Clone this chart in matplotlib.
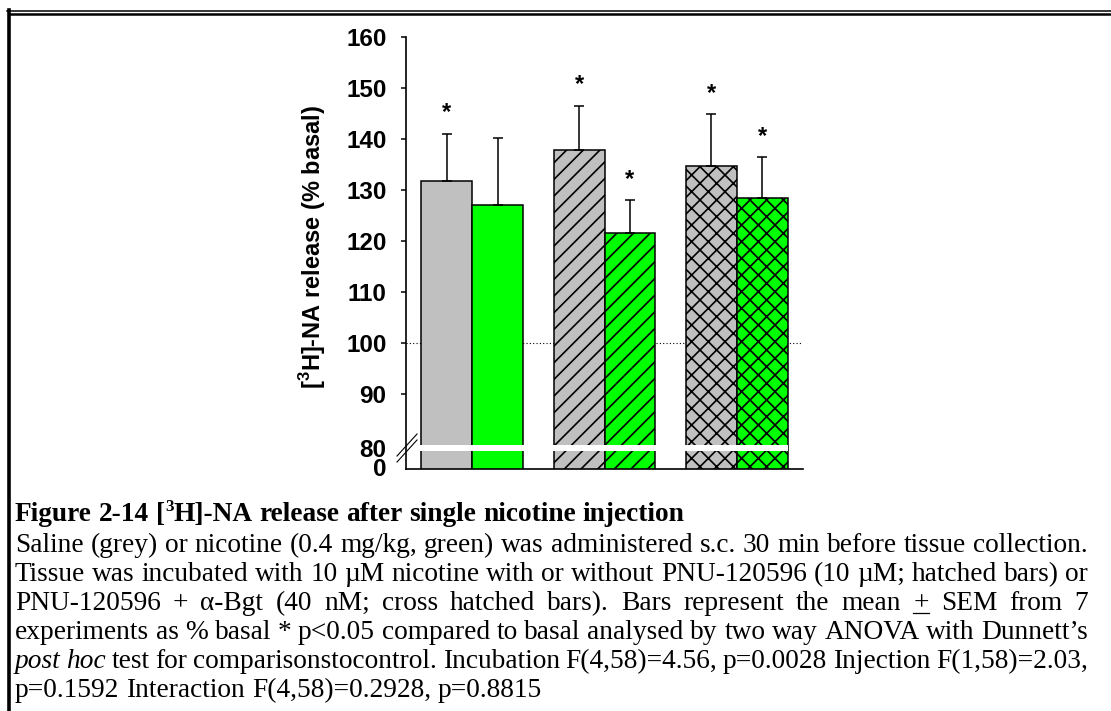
import matplotlib.pyplot as plt
import numpy as np
from matplotlib.lines import Line2D
from matplotlib.transforms import IdentityTransform

plt.rcParams["font.family"] = ["Liberation Sans", "DejaVu Sans"]
plt.rcParams["mathtext.fontset"] = "custom"
plt.rcParams["mathtext.bf"] = "Liberation Sans:bold"
plt.rcParams["mathtext.rm"] = "Liberation Sans:bold"
plt.rcParams["hatch.linewidth"] = 1.2

# data (% basal release)
groups = ["nicotine", "nicotine + PNU-120596", "nicotine + PNU-120596 + a-Bgt"]
saline_mean = [131.8, 137.9, 134.7]
saline_sem = [9.3, 8.7, 10.2]
nicotine_mean = [127.1, 121.6, 128.4]
nicotine_sem = [13.1, 6.4, 8.1]
saline_sig = [True, True, True]
nicotine_sig = [False, True, True]
hatches = ["", "//", "xx"]
ytick_vals = [90, 100, 110, 120, 130, 140, 150, 160]

title_txt = "Figure 2-14 [^3H]-NA release after single nicotine injection"
caption = [
    ("Saline (grey) or nicotine (0.4 mg/kg, green) was administered s.c. 30 min before tissue collection.", True),
    ("Tissue was incubated with 10 \u00b5M nicotine with or without PNU-120596 (10 \u00b5M; hatched bars) or", True),
    ("PNU-120596 + \u03b1-Bgt (40 nM; cross hatched bars). Bars represent the mean ~+~ SEM from 7", True),
    ("experiments as % basal * p<0.05 compared to basal analysed by two way ANOVA with Dunnett\u2019s", True),
    ("_post_ _hoc_ test for comparisonstocontrol. Incubation F(4,58)=4.56, p=0.0028 Injection F(1,58)=2.03,", True),
    ("p=0.1592 Interaction F(4,58)=0.2928, p=0.8815", False),
]

W, H = 1111, 711
fig = plt.figure(figsize=(W / 100, H / 100), dpi=100)

# chart
ax = fig.add_axes([406 / W, 1 - 469 / H, (803 - 406) / W, (469 - 37.3) / H])
x = np.arange(len(groups))
w = 0.383
for i in range(len(groups)):
    ax.bar(x[i] - w / 2, saline_mean[i], w, color="#c0c0c0", edgecolor="black",
           linewidth=1.1, hatch=hatches[i], zorder=2)
    ax.bar(x[i] + w / 2, nicotine_mean[i], w, color="#00ff00", edgecolor="black",
           linewidth=1.1, hatch=hatches[i], zorder=2)

ax.errorbar(x - w / 2, saline_mean, yerr=[np.zeros(3), saline_sem], fmt="none",
            ecolor="black", elinewidth=1.1, capsize=3.6, capthick=1.1, zorder=3)
ax.errorbar(x + w / 2, nicotine_mean, yerr=[np.zeros(3), nicotine_sem], fmt="none",
            ecolor="black", elinewidth=1.1, capsize=3.6, capthick=1.1, zorder=3)

for i in range(len(groups)):
    if saline_sig[i]:
        ax.text(x[i] - w / 2, saline_mean[i] + saline_sem[i] + 4.1, "*", ha="center",
                va="center", fontsize=17, fontweight="bold")
    if nicotine_sig[i]:
        ax.text(x[i] + w / 2, nicotine_mean[i] + nicotine_sem[i] + 4.1, "*", ha="center",
                va="center", fontsize=17, fontweight="bold")

ax.axhline(100, color="black", linestyle=(0, (1, 2)), linewidth=0.8, zorder=1)

# axis break
ax.fill_between([-0.4, 2.39], 78.75, 79.9, color="white", linewidth=0, zorder=4)

ax.set_xlim(-0.5, 2.5)
ax.set_ylim(75.2, 160)
ax.set_yticks([75.6, 79.3] + ytick_vals)
ax.set_yticklabels(["0", "80"] + [str(v) for v in ytick_vals])
ax.set_xticks([])
for t in ax.yaxis.get_major_ticks()[:2]:
    t.tick1line.set_visible(False)
ax.tick_params(axis="y", direction="out", length=3.6, width=1.1, labelsize=17.5, pad=10.5)
for lab in ax.get_yticklabels():
    lab.set_fontweight("bold")
for s in ["top", "right"]:
    ax.spines[s].set_visible(False)
for s in ["left", "bottom"]:
    ax.spines[s].set_linewidth(1.2)

fig.text(313 / W, 1 - 247 / H, r"[$^{\mathbf{3}}$H]-NA release (% basal)", rotation=90,
         ha="center", va="center", fontsize=17, fontweight="bold")

for (xa, ya, xb, yb) in [(397, 462, 417, 440), (397, 456, 417, 434)]:
    fig.add_artist(Line2D([xa / W, xb / W], [1 - ya / H, 1 - yb / H], color="black",
                          linewidth=0.8, transform=fig.transFigure))

# page border
fig.add_artist(Line2D([7 / W, 1], [1 - 10.5 / H, 1 - 10.5 / H], color="black", linewidth=1.1,
                      transform=fig.transFigure))
fig.add_artist(Line2D([10 / W, 1], [1 - 14 / H, 1 - 14 / H], color="black", linewidth=1.8,
                      transform=fig.transFigure))
fig.add_artist(Line2D([9 / W, 9 / W], [1 - 10 / H, 0], color="black", linewidth=2.6,
                      transform=fig.transFigure))

# caption, justified like the original document
renderer = fig.canvas.get_renderer()
serif = "Liberation Serif"
left, right = 15, 1088


def make_piece(text, style, size):
    kw = dict(fontsize=size, family=serif, transform=IdentityTransform())
    if style == "b":
        kw["fontweight"] = "bold"
    if style == "i":
        kw["fontstyle"] = "italic"
    return fig.text(0, 0, text, va="baseline", **kw)


def width_of(t):
    return t.get_window_extent(renderer).width


# size the caption font so the first line fills the text width with normal spacing
probe = make_piece(caption[0][0], "n", 10)
cap_size = 10 * (right - left - 4) / width_of(probe)
probe.remove()


def draw_line(y_top, words, justify, bold=False):
    y = H - y_top
    base = "b" if bold else "n"
    placed = []
    total = 0
    for word in words:
        pieces = []
        style = base
        underline = False
        if word.startswith("_") and word.endswith("_") and len(word) > 2:
            word = word[1:-1]
            style = "i"
        if word.startswith("~") and word.endswith("~") and len(word) > 2:
            word = word[1:-1]
            underline = True
        if "^" in word:
            a, rest = word.split("^")
            pieces.append((make_piece(a, style, cap_size), 0))
            pieces.append((make_piece(rest[0], style, cap_size * 0.62), 0.38 * cap_size * 100 / 72))
            pieces.append((make_piece(rest[1:], style, cap_size), 0))
        else:
            pieces.append((make_piece(word, style, cap_size), 0))
        ww = sum(width_of(p) for p, _ in pieces)
        placed.append((pieces, ww, underline))
        total += ww
    p1 = make_piece("x x", base, cap_size)
    p2 = make_piece("xx", base, cap_size)
    space = width_of(p1) - width_of(p2)
    p1.remove()
    p2.remove()
    if justify and len(words) > 1:
        gap = (right - left - total) / (len(words) - 1)
    else:
        gap = space
    xc = left
    for pieces, ww, underline in placed:
        xs = xc
        for p, dy in pieces:
            p.set_position((xc, y + dy))
            xc += width_of(p)
        if underline:
            fig.add_artist(Line2D([xs, xc], [y - 3, y - 3], color="black", linewidth=0.9,
                                  transform=IdentityTransform()))
        xc += gap


draw_line(521, title_txt.split(" "), False, bold=True)
for k, (line, just) in enumerate(caption):
    draw_line(552 + k * 29, line.split(" "), just)

fig.savefig("out.png", dpi=100)
